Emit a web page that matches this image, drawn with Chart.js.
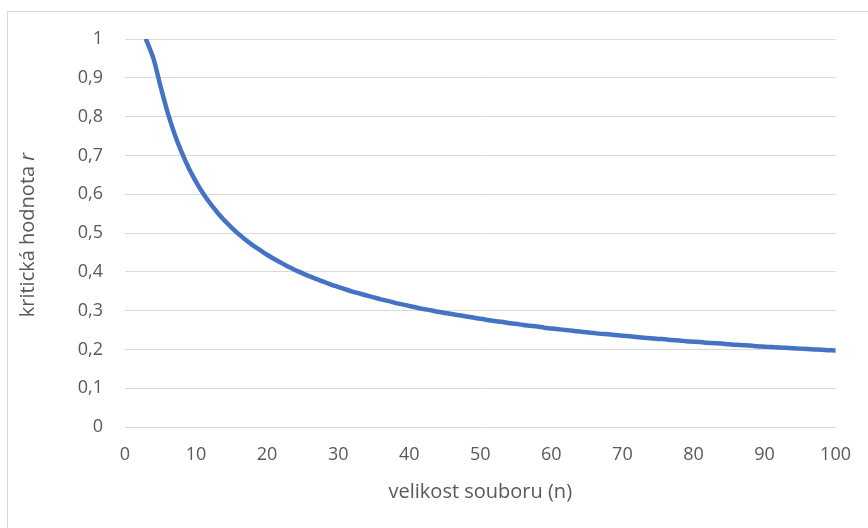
<!DOCTYPE html>
<html>
<head>
<meta charset="utf-8">
<script src="https://cdn.jsdelivr.net/npm/chart.js@4"></script>
<style>
  html, body { margin: 0; padding: 0; background: #fff; }
  #wrap { position: relative; width: 868px; height: 528px; overflow: hidden; }
  #frame { position: absolute; left: 7px; top: 11px; width: 900px; height: 600px; border: 1px solid #d9d9d9; }
  canvas { position: absolute; left: 0; top: 0; }
</style>
</head>
<body>
<div id="wrap">
  <div id="frame"></div>
  <canvas id="chart" width="868" height="528"></canvas>
</div>
<script>
// velikost souboru n = 3..100
const sampleSizes = [
  3, 4, 5, 6, 7, 8, 9, 10, 11, 12, 13, 14, 15, 16, 17, 18, 19, 20,
  21, 22, 23, 24, 25, 26, 27, 28, 29, 30, 31, 32, 33, 34, 35, 36, 37, 38, 39, 40,
  41, 42, 43, 44, 45, 46, 47, 48, 49, 50, 51, 52, 53, 54, 55, 56, 57, 58, 59, 60,
  61, 62, 63, 64, 65, 66, 67, 68, 69, 70, 71, 72, 73, 74, 75, 76, 77, 78, 79, 80,
  81, 82, 83, 84, 85, 86, 87, 88, 89, 90, 91, 92, 93, 94, 95, 96, 97, 98, 99, 100
];
// kritická hodnota r
const criticalR = [
  0.997, 0.950, 0.878, 0.811, 0.754, 0.707, 0.666, 0.632, 0.602, 0.576, 0.553, 0.532, 0.514, 0.497, 0.482, 0.468, 0.456, 0.444,
  0.433, 0.423, 0.413, 0.404, 0.396, 0.388, 0.381, 0.374, 0.367, 0.361, 0.355, 0.349, 0.344, 0.339, 0.334, 0.329, 0.325, 0.320, 0.316, 0.312,
  0.308, 0.304, 0.301, 0.297, 0.294, 0.291, 0.288, 0.285, 0.282, 0.279, 0.276, 0.273, 0.271, 0.268, 0.266, 0.263, 0.261, 0.259, 0.256, 0.254,
  0.252, 0.250, 0.248, 0.246, 0.244, 0.242, 0.240, 0.239, 0.237, 0.235, 0.234, 0.232, 0.230, 0.229, 0.227, 0.226, 0.224, 0.223, 0.221, 0.220,
  0.219, 0.217, 0.216, 0.215, 0.213, 0.212, 0.211, 0.210, 0.208, 0.207, 0.206, 0.205, 0.204, 0.203, 0.202, 0.201, 0.200, 0.199, 0.198, 0.197
];
const xTitle = 'velikost souboru (n)';
const yTitle = 'kritická hodnota ';
const yTitleItalic = 'r';

const FONT = "'Open Sans', 'Noto Sans', sans-serif";
const TEXT = '#595959';
const TITLE_SIZE = 20;

// axis titles drawn by hand so the "r" can be italic
const axisTitles = {
  id: 'axisTitles',
  afterDraw(chart) {
    const { ctx, chartArea } = chart;
    const plain = TITLE_SIZE + 'px ' + FONT;
    const italic = 'italic ' + TITLE_SIZE + 'px ' + FONT;
    ctx.save();
    ctx.fillStyle = TEXT;
    ctx.textBaseline = 'middle';
    ctx.font = plain;
    ctx.textAlign = 'center';
    ctx.fillText(xTitle, (chartArea.left + chartArea.right) / 2, 492);

    ctx.translate(28, 235);
    ctx.rotate(-Math.PI / 2);
    ctx.textAlign = 'left';
    const w1 = ctx.measureText(yTitle).width;
    ctx.font = italic;
    const w2 = ctx.measureText(yTitleItalic).width;
    const start = -(w1 + w2) / 2;
    ctx.font = plain;
    ctx.fillText(yTitle, start, 0);
    ctx.font = italic;
    ctx.fillText(yTitleItalic, start + w1, 0);
    ctx.restore();
  }
};

new Chart(document.getElementById('chart'), {
  type: 'scatter',
  data: {
    datasets: [{
      label: 'r',
      data: sampleSizes.map((n, i) => ({ x: n, y: criticalR[i] })),
      showLine: true,
      borderColor: '#4472C4',
      borderWidth: 4.5,
      pointRadius: 0,
      tension: 0.3,
      borderCapStyle: 'round',
    }],
  },
  options: {
    responsive: false,
    animation: false,
    layout: { padding: { top: 39, right: 31, left: 0, bottom: 0 } },
    plugins: { legend: { display: false }, tooltip: { enabled: false } },
    scales: {
      x: {
        type: 'linear',
        min: 0,
        max: 100,
        grid: { display: false, drawTicks: false },
        border: { display: false },
        ticks: { stepSize: 10, padding: 17, color: TEXT, font: { size: 18, family: FONT } },
        afterFit: (s) => { s.height = 101; },
      },
      y: {
        min: 0,
        max: 1,
        grid: { color: '#d9d9d9', lineWidth: 1, drawTicks: false },
        border: { display: false },
        ticks: {
          stepSize: 0.1,
          padding: 22,
          color: TEXT,
          font: { size: 18, family: FONT },
          callback: (v) => String(Math.round(v * 10) / 10).replace('.', ','),
        },
        afterFit: (s) => { s.width = 125; },
      },
    },
  },
  plugins: [axisTitles],
});
</script>
</body>
</html>
